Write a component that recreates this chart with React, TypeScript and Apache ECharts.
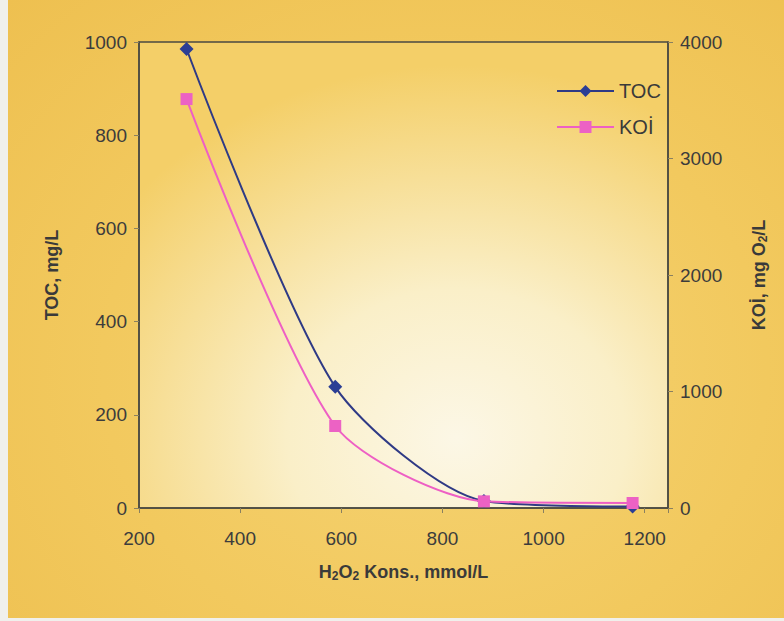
import React, { useEffect, useRef } from "react";
import * as echarts from "echarts";

const concentrations = [294, 588, 882, 1176];
const tocValues = [985, 260, 15, 3];
const koiValues = [3510, 704, 57, 43];
const xTicks = [200, 400, 600, 800, 1000, 1200];

export default function App() {
  const ref = useRef<HTMLDivElement>(null);
  useEffect(() => {
    document.body.style.margin = "0";
    const chart = echarts.init(ref.current!, null, { renderer: "svg" });
    const font = "'Liberation Sans', Arial, sans-serif";
    const labelStyle = { fontFamily: font, fontSize: 19, color: "#3c3c3c" };
    const nameStyle = {
      fontFamily: font,
      fontSize: 18,
      fontWeight: "bold" as const,
      color: "#3a3a3a",
    };
    const axisLine = { show: true, lineStyle: { color: "#4a4a42", width: 1.5 } };
    const axisTick = { show: true, length: 5, lineStyle: { color: "#8a8060" } };
    chart.setOption({
      animation: false,
      backgroundColor: "transparent",
      grid: {
        left: 139,
        right: 116,
        top: 42,
        bottom: 113,
        show: true,
        borderColor: "#4a4a42",
        borderWidth: 1.5,
        backgroundColor: new echarts.graphic.RadialGradient(0.6, 0.85, 0.8, [
          { offset: 0, color: "#fcf7e6" },
          { offset: 0.4, color: "#faefc8" },
          { offset: 1, color: "#f4cf68" },
        ]),
      },
      legend: {
        orient: "vertical",
        left: 551,
        top: 76,
        itemGap: 16,
        itemWidth: 57,
        itemHeight: 15,
        textStyle: { ...labelStyle, fontSize: 20, color: "#3a3a3a" },
        data: ["TOC", "KOİ"],
      },
      xAxis: {
        type: "value",
        min: 200,
        max: 1246,
        interval: 200,
        name: "H{sub|2}O{sub|2} Kons., mmol/L",
        nameLocation: "middle",
        nameGap: 53,
        nameTextStyle: {
          ...nameStyle,
          rich: {
            sub: { ...nameStyle, fontSize: 12, verticalAlign: "bottom", padding: [9, 0, 0, 0] },
          },
        },
        axisLine,
        axisTick,
        splitLine: { show: false },
        axisLabel: {
          ...labelStyle,
          margin: 21,
          formatter: (v: number) => (xTicks.includes(v) ? String(v) : ""),
        },
      },
      yAxis: [
        {
          type: "value",
          min: 0,
          max: 1000,
          interval: 200,
          name: "TOC, mg/L",
          nameLocation: "middle",
          nameRotate: 90,
          nameGap: 78,
          nameTextStyle: nameStyle,
          axisLine,
          axisTick,
          splitLine: { show: false },
          axisLabel: { ...labelStyle, margin: 12, formatter: (v: number) => String(v) },
        },
        {
          type: "value",
          min: 0,
          max: 4000,
          interval: 1000,
          name: "KOİ, mg O{sub|2}/L",
          nameLocation: "middle",
          nameRotate: 90,
          nameGap: 80,
          nameTextStyle: {
            ...nameStyle,
            rich: {
              sub: { ...nameStyle, fontSize: 12, padding: [9, 0, 0, 0] },
            },
          },
          axisLine,
          axisTick,
          splitLine: { show: false },
          axisLabel: { ...labelStyle, margin: 12, formatter: (v: number) => String(v) },
        },
      ],
      series: [
        {
          name: "TOC",
          type: "line",
          yAxisIndex: 0,
          smooth: 0.25,
          symbol: "diamond",
          symbolSize: 14,
          z: 3,
          lineStyle: { color: "#2f3a85", width: 2 },
          itemStyle: { color: "#2b3e95" },
          data: concentrations.map((c, i) => [c, tocValues[i]]),
        },
        {
          name: "KOİ",
          type: "line",
          yAxisIndex: 1,
          smooth: 0.25,
          symbol: "rect",
          symbolSize: 12,
          z: 4,
          lineStyle: { color: "#ee5fc4", width: 2 },
          itemStyle: { color: "#ec62c4" },
          data: concentrations.map((c, i) => [c, koiValues[i]]),
        },
      ],
    });
    return () => chart.dispose();
  }, []);
  return (
    <div
      style={{
        width: 784,
        height: 621,
        position: "relative",
        background: "#f0f0ec",
      }}
    >
      <div
        style={{
          position: "absolute",
          left: 8,
          top: 0,
          width: 776,
          height: 618,
          background:
            "radial-gradient(ellipse at 55% 60%, #f5d373 0%, #f2c95e 55%, #eec050 100%)",
        }}
      />
      <div ref={ref} style={{ position: "absolute", left: 0, top: 0, width: 784, height: 621 }} />
    </div>
  );
}
